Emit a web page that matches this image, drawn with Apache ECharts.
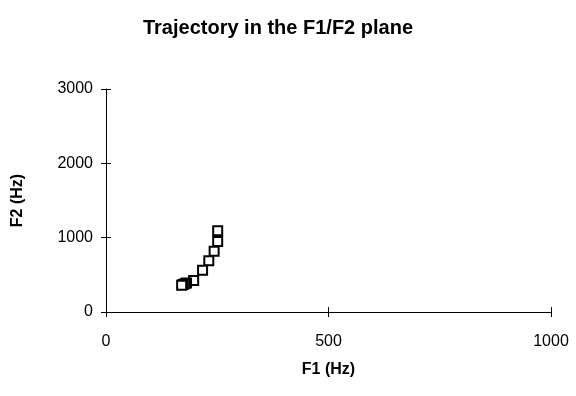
<!DOCTYPE html>
<html>
<head>
<meta charset="utf-8">
<script src="https://cdn.jsdelivr.net/npm/echarts@6/dist/echarts.min.js"></script>
<style>
html,body{margin:0;padding:0;background:#fff;}
#chart{width:576px;height:396px;}
</style>
</head>
<body>
<div id="chart"></div>
<script>
var titleText = 'Trajectory in the F1/F2 plane';
var xName = 'F1 (Hz)';
var yName = 'F2 (Hz)';
var f1 = [251, 251, 243, 231, 217, 197, 181, 177, 173, 170];
var f2 = [1094, 950, 816, 690, 560, 425, 390, 380, 370, 360];
var xTicks = [0, 500, 1000];
var yTicks = [0, 1000, 2000, 3000];

var points = f1.map(function (v, i) { return [v, f2[i]]; });
var font = 'Liberation Sans, Arial, sans-serif';
var plain = function (v) { return String(v); };

var chart = echarts.init(document.getElementById('chart'));
var commonX = {
  type: 'value', min: xTicks[0], max: xTicks[xTicks.length - 1], interval: 500,
  splitLine: { show: false }
};
var commonY = {
  type: 'value', min: yTicks[0], max: yTicks[yTicks.length - 1], interval: 1000,
  splitLine: { show: false }
};
chart.setOption({
  animation: false,
  backgroundColor: '#fff',
  title: {
    text: titleText,
    left: 273, top: 13, textAlign: 'center',
    textStyle: { fontFamily: font, fontSize: 20, fontWeight: 'bold', color: '#000' }
  },
  grid: { left: 106, right: 25, top: 89, bottom: 84, containLabel: false },
  xAxis: [
    Object.assign({}, commonX, {
      position: 'bottom',
      name: xName, nameLocation: 'middle', nameGap: 50, nameMoveOverlap: false,
      nameTextStyle: { fontFamily: font, fontSize: 16, fontWeight: 'bold', color: '#000' },
      axisLine: { show: true, onZero: false, lineStyle: { color: '#000', width: 1 } },
      axisTick: { show: true, inside: false, length: 5, lineStyle: { color: '#000' } },
      axisLabel: { show: true, margin: 22, formatter: plain, fontFamily: font, fontSize: 16, color: '#000' }
    }),
    Object.assign({}, commonX, {
      position: 'bottom',
      axisLine: { show: false },
      axisTick: { show: true, inside: true, length: 5, lineStyle: { color: '#000' } },
      axisLabel: { show: false }
    })
  ],
  yAxis: [
    Object.assign({}, commonY, {
      position: 'left',
      name: yName, nameLocation: 'middle', nameGap: 80, nameRotate: 90, nameMoveOverlap: false,
      nameTextStyle: { fontFamily: font, fontSize: 16, fontWeight: 'bold', color: '#000' },
      axisLine: { show: true, onZero: false, lineStyle: { color: '#000', width: 1 } },
      axisTick: { show: true, inside: false, length: 5, lineStyle: { color: '#000' } },
      axisLabel: { show: true, margin: 13, formatter: plain, fontFamily: font, fontSize: 16, color: '#000' }
    }),
    Object.assign({}, commonY, {
      position: 'left',
      axisLine: { show: false },
      axisTick: { show: true, inside: true, length: 5, lineStyle: { color: '#000' } },
      axisLabel: { show: false }
    })
  ],
  series: [{
    type: 'scatter',
    xAxisIndex: 0, yAxisIndex: 0,
    data: points,
    symbol: 'rect',
    symbolSize: 9,
    itemStyle: { color: '#fff', borderColor: '#000', borderWidth: 2, opacity: 1 }
  }]
});
</script>
</body>
</html>
